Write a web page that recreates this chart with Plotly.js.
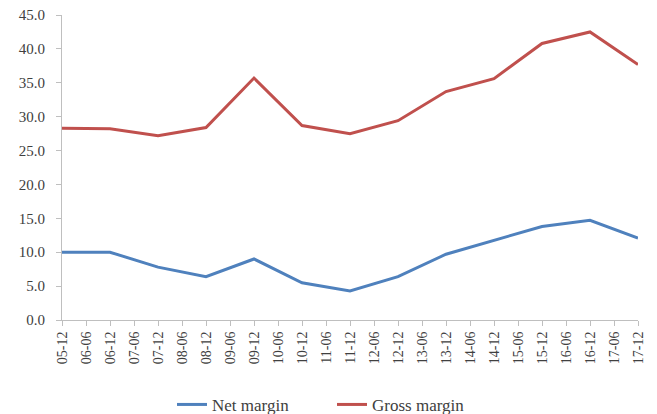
<!DOCTYPE html>
<html><head><meta charset="utf-8">
<script src="https://cdn.plot.ly/plotly-3.0.1.min.js"></script>
<style>html,body{margin:0;padding:0;background:#fff}#chart{width:657px;height:414px}</style>
</head><body><div id="chart"></div>
<script>
const categories = ["05-12","06-06","06-12","07-06","07-12","08-06","08-12","09-06","09-12","10-06","10-12","11-06","11-12","12-06","12-12","13-06","13-12","14-06","14-12","15-06","15-12","16-06","16-12","17-06","17-12"];
const netMargin   = [10.0,null,10.0,null,7.8,null,6.4,null,9.0,null,5.5,null,4.3,null,6.4,null,9.7,null,11.7,null,13.8,null,14.7,null,12.1];
const grossMargin = [28.3,null,28.2,null,27.2,null,28.4,null,35.7,null,28.7,null,27.5,null,29.4,null,33.7,null,35.6,null,40.8,null,42.5,null,37.7];
const yTicks = [0,5,10,15,20,25,30,35,40,45];

const font = {family:"Liberation Serif, Times New Roman, serif", color:"#404040"};
const traces = [
  {x:categories, y:netMargin, name:"Net margin", type:"scatter", mode:"lines", connectgaps:true,
   line:{color:"#4F81BD", width:3}},
  {x:categories, y:grossMargin, name:"Gross margin", type:"scatter", mode:"lines", connectgaps:true,
   line:{color:"#C0504D", width:3}}
];
const layout = {
  width:657, height:414,
  margin:{l:62, r:19, t:15, b:94, autoexpand:false},
  paper_bgcolor:"#fff", plot_bgcolor:"#fff",
  font:Object.assign({size:13}, font),
  showlegend:true,
  legend:{orientation:"h", x:0.191, xanchor:"left", yref:"container", y:0.022, yanchor:"middle",
          entrywidth:115, font:Object.assign({size:17}, font), tracegroupgap:0},
  xaxis:{type:"category", range:[0,24], tickangle:-90, showgrid:false, zeroline:false, automargin:false,
         showline:true, linecolor:"#BFBFBF", linewidth:1, ticks:"outside", ticklen:5, tickcolor:"#BFBFBF",
         tickfont:Object.assign({size:14}, font), fixedrange:true},
  yaxis:{range:[0,45], tickvals:yTicks, ticktext:yTicks.map(v=>v.toFixed(1)), showgrid:false, zeroline:false, automargin:false,
         showline:true, linecolor:"#BFBFBF", linewidth:1, ticks:"outside", ticklen:5, tickcolor:"#BFBFBF",
         ticklabelstandoff:8, tickfont:Object.assign({size:15}, font), fixedrange:true}
};
Plotly.newPlot("chart", traces, layout, {displayModeBar:false, staticPlot:true});
</script></body></html>
